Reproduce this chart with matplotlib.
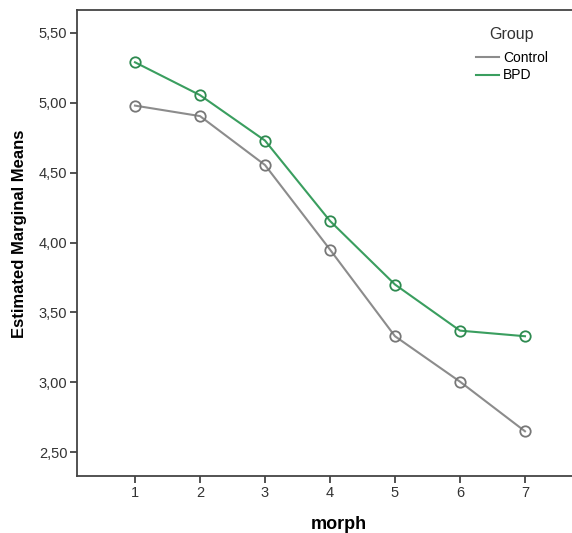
import matplotlib
matplotlib.use("Agg")
import matplotlib.pyplot as plt
from matplotlib.lines import Line2D

morph = [1, 2, 3, 4, 5, 6, 7]
control = [4.98, 4.905, 4.555, 3.95, 3.33, 3.005, 2.65]
bpd = [5.29, 5.055, 4.73, 4.155, 3.70, 3.37, 3.33]
yticks = [2.5, 3.0, 3.5, 4.0, 4.5, 5.0, 5.5]
ytick_labels = ["2,50", "3,00", "3,50", "4,00", "4,50", "5,00", "5,50"]

plt.rcParams['font.family'] = ['Liberation Sans', 'DejaVu Sans']

W, H = 572, 533
fig = plt.figure(figsize=(W/100, H/100), dpi=100)
left_px, right_px, top_px, bot_px = 77, 600, 10, 476
ax = fig.add_axes([left_px/W, 1-bot_px/H, (right_px-left_px)/W, (bot_px-top_px)/H])

gray = '#8c8c8c'
green = '#3a9e5f'
ax.plot(morph, control, color=gray, lw=1.5, marker='o', ms=7.5, mfc='none', mec='#777777', mew=1.3, zorder=3, clip_on=False)
ax.plot(morph, bpd, color=green, lw=1.5, marker='o', ms=7.5, mfc='none', mec='#2e8a50', mew=1.3, zorder=3, clip_on=False)

ax.set_xlim(0.108, 0.108 + (right_px-left_px)/65)
ax.set_ylim(2.33, 5.664)
ax.set_xticks(morph)
ax.set_xticklabels([str(m) for m in morph])
ax.set_yticks(yticks)
ax.set_yticklabels(ytick_labels)

for s in ['left', 'bottom', 'top']:
    ax.spines[s].set_color('#444444')
    ax.spines[s].set_linewidth(1.3)
ax.spines['right'].set_visible(False)
ax.tick_params(axis='both', direction='out', length=5, width=1.3, color='#444444',
               labelsize=10.5, labelcolor='#333333', pad=2)

ax.set_xlabel('morph', fontsize=13, fontweight='bold', labelpad=12)
fig.text(20/W, 1-233.5/H, 'Estimated Marginal Means', fontsize=12, fontweight='bold',
         rotation=90, ha='center', va='center')

# legend
fig.text(511/W, 1-35/H, 'Group', fontsize=11.5, color='#333333', ha='center', va='center')
handles = [Line2D([0], [0], color=gray, lw=1.5), Line2D([0], [0], color=green, lw=1.5)]
fig.legend(handles, ['Control', 'BPD'], loc='upper left', bbox_to_anchor=(476/W, 1-51/H),
           frameon=False, fontsize=10, handlelength=1.65, handletextpad=0.3, labelspacing=0.25,
           borderpad=0, borderaxespad=0)

fig.savefig('out.png', dpi=100)
